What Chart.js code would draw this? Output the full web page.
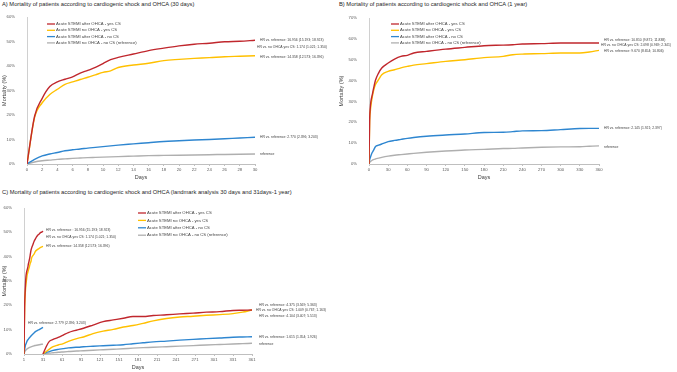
<!DOCTYPE html>
<html><head><meta charset="utf-8">
<script src="https://cdn.jsdelivr.net/npm/chart.js@4/dist/chart.umd.min.js"></script>
<style>
html,body{margin:0;padding:0;background:#fff;}
body{width:677px;height:372px;position:relative;overflow:hidden;font-family:"Liberation Sans",Arial,sans-serif;}
.t{position:absolute;font-size:5.75px;color:#262626;white-space:nowrap;line-height:1;}
canvas{position:absolute;}
</style></head><body>
<div class="t" id="tA" style="left:2px;top:2px">A) Mortality of patients according to cardiogenic shock and OHCA (30 days)</div>
<div class="t" id="tB" style="left:339px;top:2px">B) Mortality of patients according to cardiogenic shock and OHCA (1 year)</div>
<div class="t" id="tC" style="left:2px;top:190px">C) Mortality of patients according to cardiogenic shock and OHCA (landmark analysis 30 days and 31days-1 year)</div>
<canvas id="cA" width="337" height="182" style="left:0;top:0"></canvas>
<canvas id="cB" width="340" height="182" style="left:337px;top:0"></canvas>
<canvas id="cC" width="340" height="190" style="left:0;top:182px"></canvas>
<script>
// ---------- DATA ----------
const seriesNames = ["Acute STEMI after OHCA - yes CS","Acute STEMI no OHCA - yes CS","Acute STEMI after OHCA - no CS","Acute STEMI no OHCA - no CS (reference)"];

// Panel A: 30 days
const daysA   = [0,1,2,3,4,5,6,7,8,9,10,11,12,14,16,18,20,22,24,26,28,30];
const redA    = [0,19.5,26.8,31.6,33.5,34.6,35.6,37.1,38.2,39.4,41.0,42.6,43.5,44.9,46.3,47.3,48.2,48.9,49.3,49.9,50.1,50.5];
const yellowA = [0,19.0,25.0,28.4,30.5,32.5,33.5,34.5,35.4,36.4,37.4,38.0,39.4,40.4,41.1,42.2,42.7,43.1,43.4,43.8,44.0,44.2];
const blueA   = [0,1.9,3.3,4.1,4.7,5.4,5.8,6.1,6.5,6.8,7.1,7.4,7.7,8.2,8.7,9.2,9.5,9.8,10.0,10.3,10.6,10.9];
const greyA   = [0,0.8,1.3,1.6,1.9,2.1,2.3,2.45,2.6,2.7,2.8,2.9,3.0,3.2,3.4,3.5,3.6,3.7,3.8,3.9,4.0,4.1];
const xTicksA = [0,2,4,6,8,10,12,14,16,18,20,22,24,26,28,30];
const yTicksA = [0,10,20,30,40,50,60];
const labelsA = ["HR vs. reference: 16.956 (15.193; 18.923)","HR vs. no OHCA yes CS: 1.174 (1.021; 1.350)","HR vs. reference: 14.358 (12.573; 16.396)","HR vs. reference: 2.770 (2.396; 3.203)","reference"];

// Panel B: 1 year
const daysB   = [0,1,2,3,5,7,10,15,20,30,40,50,60,70,90,120,150,180,210,225,240,270,300,330,345,360];
const redB    = [0,21,27,30,33,36,40,43.6,46,48.4,50.3,51.6,52.1,53.2,54,55.1,55.9,56.7,57,57.2,57.5,57.7,58,58,58,58];
const yellowB = [0,20,25,28,32,35,38,40.4,42.8,44.4,45.2,46.1,46.8,47.4,48.1,49.2,50,51,51.6,52.4,52.7,52.9,53.2,53.2,53.7,54.5];
const blueB   = [0,2,3,4,5.5,6.5,8.3,9,9.6,10.7,11.3,11.8,12.3,12.7,13.3,13.9,14.4,15.1,15.2,15.5,15.9,16,16.5,17,17.1,17.1];
const greyB   = [0,0.8,1.1,1.3,1.8,2.1,2.4,2.8,3.2,3.8,4.2,4.5,4.8,5.1,5.6,6.2,6.7,7,7.4,7.5,7.7,8,8.2,8.3,8.5,8.7];
const xTicksB = [0,30,60,90,120,150,180,210,240,270,300,330,360];
const yTicksB = [0,10,20,30,40,50,60,70];
const labelsB = ["HR vs. reference: 10.810 (9.871; 11.838)","HR vs. no OHCA yes CS: 2.098 (0.969; 2.341)","HR vs. reference: 9.670 (8.654; 10.806)","HR vs. reference: 2.145 (1.921; 2.397)","reference"];

// Panel C: landmark (first part = 30-day data on days 1..31, second part 31..361)
const daysC2   = [31,36,41,47,55,63,71,79,87,95,110,126,142,158,173,189,205,226,247,268,289,310,331,346,361];
const redC2    = [0,3.0,5.2,6.0,6.8,7.8,8.8,9.5,10.0,10.6,11.9,13.3,14.0,14.7,15.4,15.4,15.8,16.1,16.5,16.8,17.2,17.4,17.9,18.0,18.1];
const yellowC2 = [0,1.0,2.0,3.0,3.7,4.3,5.2,5.9,6.5,7.0,8.4,9.4,10.1,11.1,11.7,12.6,13.6,14.6,15.2,15.5,15.9,16.2,16.6,17.2,18.1];
const blueC2   = [0,0.6,1.0,1.5,1.9,2.2,2.5,2.7,2.8,3.0,3.2,3.4,3.6,3.8,4.2,4.6,5.0,5.3,5.7,6.0,6.3,6.6,6.9,7.0,7.1];
const greyC2   = [0,0.2,0.35,0.5,0.7,0.85,1.0,1.15,1.25,1.35,1.55,1.75,1.95,2.15,2.4,2.6,2.75,3.0,3.25,3.45,3.7,3.9,4.1,4.25,4.4];
const xTicksC  = [1,31,61,91,121,151,181,211,241,271,301,331,361];
const yTicksC  = [0,10,20,30,40,50,60];
const labelsC1 = ["HR vs. reference : 16.956 (15.193; 18.923)","HR vs. no OHCA yes CS: 1.174 (1.021; 1.350)","HR vs. reference: 14.358 (12.573; 16.396)","HR vs. reference: 2.779 (2.396; 3.203)"];
const labelsC2 = ["HR vs. reference: 4.375 (3.569; 5.363)","HR vs. no OHCA yes CS: 1.009 (0.767; 1.163)","HR vs. reference: 4.104 (3.407; 5.513)","HR vs. reference: 1.615 (1.354; 1.926)","reference"];

// ---------- STYLE ----------
const COLORS = ["#C0272D","#FFC000","#2E86D0","#AFAFAF"];
const FONT = '"Liberation Sans", Arial, sans-serif';
const TXT = "#404040";

const pts = (xs, ys, off=0) => xs.map((x,i)=>({x:x+off, y:ys[i]}));

// legend + HR labels plugin
const decoPlugin = {
  id:'deco',
  afterDraw(chart, args, o){
    const ctx = chart.ctx, a = chart.chartArea;
    ctx.save();
    ctx.font = o.legendSize + 'px ' + FONT;
    ctx.textBaseline = 'middle';
    ctx.textAlign = 'left';
    seriesNames.forEach((n,i)=>{
      const y = a.top + o.legendY + i*o.legendGap;
      const x = a.left + o.legendX;
      ctx.strokeStyle = COLORS[i]; ctx.lineWidth = 1.3;
      ctx.beginPath(); ctx.moveTo(x,y); ctx.lineTo(x+8,y); ctx.stroke();
      ctx.fillStyle = TXT; ctx.fillText(n, x+9, y);
    });
    ctx.font = o.labelSize + 'px ' + FONT;
    o.items.forEach(it=>{
      const ds = chart.data.datasets[it.ds].data;
      const p = ds[ds.length-1];
      const x = chart.scales.x.getPixelForValue(p.x) + it.dx;
      const y = chart.scales.y.getPixelForValue(p.y) + it.dy;
      ctx.fillStyle = TXT;
      ctx.fillText(it.text, x, y);
    });
    ctx.restore();
  }
};

function makeChart(id, datasets, xMin, xMax, yMax, xTicks, yTicks, area, decoOpts){
  const cv = document.getElementById(id);
  const W = cv.width, H = cv.height;
  return new Chart(cv, {
    type:'line',
    data:{datasets},
    options:{
      responsive:false, animation:false, devicePixelRatio:1,
      layout:{padding:{left:1, top:area.top, right:W-area.right, bottom:0}},
      elements:{point:{radius:0}, line:{borderWidth:1.4, tension:0.25, cubicInterpolationMode:'monotone'}},
      plugins:{legend:{display:false}, tooltip:{enabled:false}, deco:decoOpts},
      scales:{
        x:{type:'linear', min:xMin, max:xMax,
           afterFit:s=>{s.height = H-area.bottom;},
           afterBuildTicks:s=>{s.ticks = xTicks.map(v=>({value:v}));},
           grid:{display:true, drawOnChartArea:false, drawTicks:true, tickLength:2, color:'#BFBFBF'},
           border:{display:true, color:'#BFBFBF'},
           ticks:{font:{size:4.2, family:FONT}, color:'#595959', padding:1, maxRotation:0, autoSkip:false},
           title:{display:true, text:'Days', font:{size:5.5, family:FONT}, color:'#404040', padding:{top:0,bottom:1}}},
        y:{type:'linear', min:0, max:yMax,
           afterFit:s=>{s.width = area.left-1;},
           afterBuildTicks:s=>{s.ticks = yTicks.map(v=>({value:v}));},
           grid:{display:false},
           border:{display:true, color:'#D0D0D0'},
           ticks:{font:{size:4.2, family:FONT}, color:'#595959', padding:4, callback:v=>v+'%'},
           title:{display:true, text:'Mortality (%)', font:{size:5.5, family:FONT}, color:'#404040', padding:{top:0,bottom:0}}}
      }
    },
    plugins:[decoPlugin]
  });
}

const dsLine = (data, i, extra={}) => Object.assign({data, borderColor:COLORS[i], backgroundColor:COLORS[i], fill:false, pointRadius:0}, extra);

// Panel A
makeChart('cA', [
  dsLine(pts(daysA,redA),0), dsLine(pts(daysA,yellowA),1), dsLine(pts(daysA,blueA),2), dsLine(pts(daysA,greyA),3)
], 0, 30, 60, xTicksA, yTicksA, {left:27, right:255, top:17, bottom:164}, {
  legendX:20, legendY:7, legendGap:6.3, legendSize:4.2, labelSize:3.4,
  items:[
    {ds:0, text:labelsA[0], dx:5, dy:0},
    {ds:0, text:labelsA[1], dx:2, dy:7},
    {ds:1, text:labelsA[2], dx:5, dy:1},
    {ds:2, text:labelsA[3], dx:5, dy:0},
    {ds:3, text:labelsA[4], dx:5, dy:0}
  ]});

// Panel B
makeChart('cB', [
  dsLine(pts(daysB,redB),0), dsLine(pts(daysB,yellowB),1), dsLine(pts(daysB,blueB),2), dsLine(pts(daysB,greyB),3)
], 0, 360, 70, xTicksB, yTicksB, {left:32, right:262, top:18, bottom:164}, {
  legendX:22, legendY:6, legendGap:6.3, legendSize:4.2, labelSize:3.4,
  items:[
    {ds:0, text:labelsB[0], dx:5, dy:-3},
    {ds:0, text:labelsB[1], dx:2, dy:2},
    {ds:1, text:labelsB[2], dx:5, dy:1},
    {ds:2, text:labelsB[3], dx:5, dy:0},
    {ds:3, text:labelsB[4], dx:5, dy:1}
  ]});

// Panel C
makeChart('cC', [
  dsLine(pts(daysC2,redC2),0,{tension:0}), dsLine(pts(daysC2,yellowC2),1,{tension:0}),
  dsLine(pts(daysC2,blueC2),2,{tension:0}), dsLine(pts(daysC2,greyC2),3,{tension:0}),
  dsLine(pts(daysA,redA,1),0), dsLine(pts(daysA,yellowA,1),1), dsLine(pts(daysA,blueA,1),2), dsLine(pts(daysA,greyA,1),3)
], 1, 361, 60, xTicksC, yTicksC, {left:24, right:252, top:26, bottom:172}, {
  legendX:114, legendY:5, legendGap:7.4, legendSize:4.2, labelSize:3.4,
  items:[
    {ds:4, text:labelsC1[0], dx:3, dy:-1},
    {ds:4, text:labelsC1[1], dx:3, dy:6},
    {ds:5, text:labelsC1[2], dx:3, dy:0},
    {ds:6, text:labelsC1[3], dx:-15, dy:-4},
    {ds:0, text:labelsC2[0], dx:7, dy:-5},
    {ds:0, text:labelsC2[1], dx:4, dy:0},
    {ds:1, text:labelsC2[2], dx:7, dy:6},
    {ds:2, text:labelsC2[3], dx:7, dy:0},
    {ds:3, text:labelsC2[4], dx:7, dy:1}
  ]});
</script>
</body></html>
